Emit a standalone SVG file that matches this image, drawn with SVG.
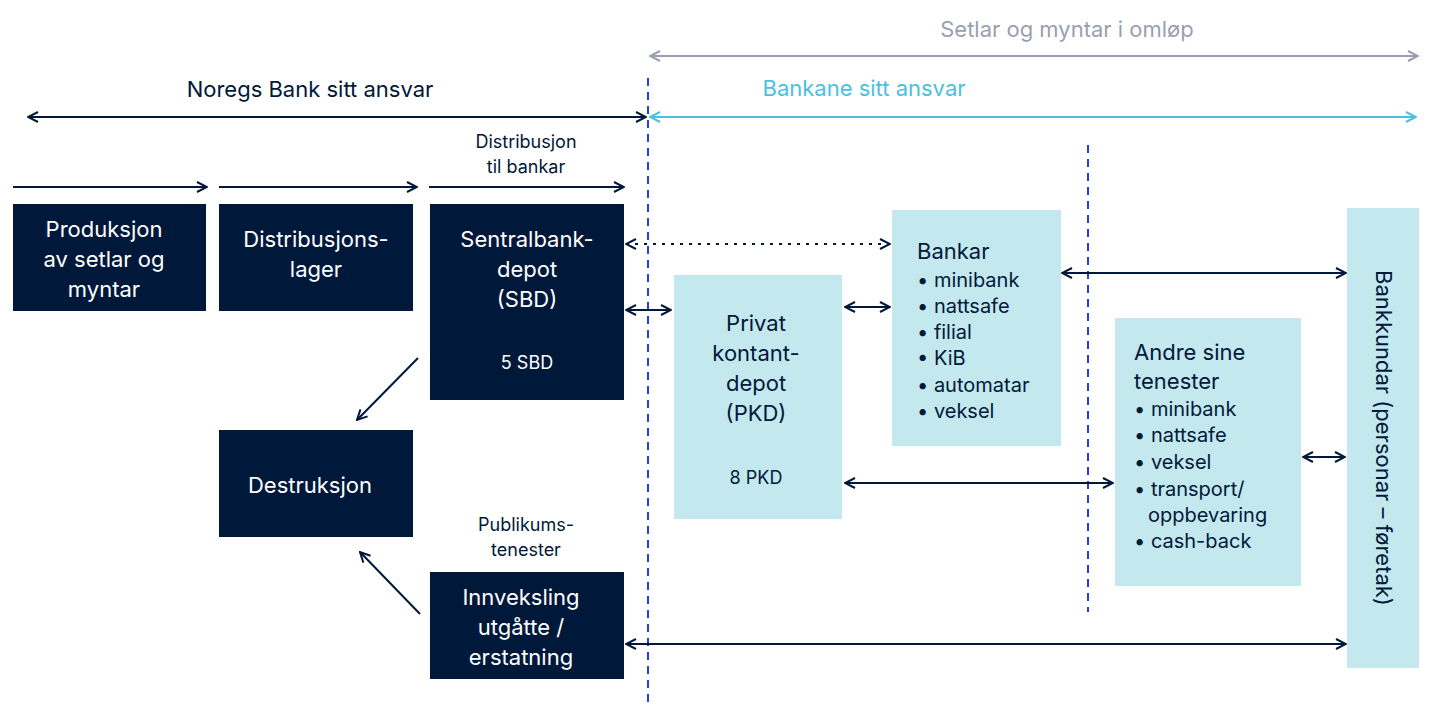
<svg xmlns="http://www.w3.org/2000/svg" width="1445" height="724" viewBox="0 0 1445 724">
<defs>
<style>
text{font-family:"Inter","Liberation Sans",sans-serif}
.d{fill:#00183a}.l{fill:#c3e8ee}
.w{fill:#fff;font-size:22px;text-anchor:middle}
.k{fill:#00183a;font-size:20px}
.c{stroke:#00183a;stroke-width:2;fill:none}
</style>
<marker id="a" viewBox="0 0 12 12" refX="11" refY="6" markerWidth="12" markerHeight="12" orient="auto-start-reverse" markerUnits="userSpaceOnUse"><path d="M1,1 L11,6 L1,11" fill="none" stroke="context-stroke" stroke-width="2"/></marker>
</defs>
<rect width="1445" height="724" fill="#fff"/>
<text x="1067" y="37" fill="#9a9fb0" font-size="22" text-anchor="middle">Setlar og myntar i omløp</text>
<text x="310" y="97" fill="#00183a" font-size="22" text-anchor="middle">Noregs Bank sitt ansvar</text>
<text x="864" y="96" fill="#4cc0e0" font-size="22" text-anchor="middle">Bankane sitt ansvar</text>
<text x="526" y="148" class="k" font-size="18" text-anchor="middle" style="font-size:18px">Distribusjon</text>
<text x="526" y="173" class="k" text-anchor="middle" style="font-size:18px">til bankar</text>
<text x="526" y="531" class="k" text-anchor="middle" style="font-size:18px">Publikums-</text>
<text x="526" y="556" class="k" text-anchor="middle" style="font-size:18px">tenester</text>
<g id="connectors">
<line x1="650" y1="56" x2="1418" y2="56" stroke="#9a9fb0" stroke-width="2" marker-start="url(#a)" marker-end="url(#a)"/>
<line x1="28" y1="117" x2="646" y2="117" class="c" marker-start="url(#a)" marker-end="url(#a)"/>
<line x1="650" y1="117" x2="1416" y2="117" stroke="#4cc0e0" stroke-width="2" marker-start="url(#a)" marker-end="url(#a)"/>
<line x1="648" y1="78" x2="648" y2="706" stroke="#2a3cf0" stroke-width="2" stroke-dasharray="8,6"/>
<line x1="1088" y1="145" x2="1088" y2="612" stroke="#2a3cf0" stroke-width="2" stroke-dasharray="8,6"/>
<line x1="13" y1="187" x2="207" y2="187" class="c" marker-end="url(#a)"/>
<line x1="219" y1="187" x2="417" y2="187" class="c" marker-end="url(#a)"/>
<line x1="429" y1="187" x2="624" y2="187" class="c" marker-end="url(#a)"/>
<line x1="626" y1="244" x2="890" y2="244" class="c" stroke-dasharray="3,6" marker-start="url(#a)" marker-end="url(#a)"/>
<line x1="626" y1="310" x2="671" y2="310" class="c" marker-start="url(#a)" marker-end="url(#a)"/>
<line x1="845" y1="307" x2="890" y2="307" class="c" marker-start="url(#a)" marker-end="url(#a)"/>
<line x1="1062" y1="273" x2="1346" y2="273" class="c" marker-start="url(#a)" marker-end="url(#a)"/>
<line x1="845" y1="483" x2="1113" y2="483" class="c" marker-start="url(#a)" marker-end="url(#a)"/>
<line x1="1303" y1="457" x2="1345" y2="457" class="c" marker-start="url(#a)" marker-end="url(#a)"/>
<line x1="626" y1="644" x2="1346" y2="644" class="c" marker-start="url(#a)" marker-end="url(#a)"/>
<line x1="418" y1="358" x2="357" y2="420" class="c" marker-end="url(#a)"/>
<line x1="420" y1="614" x2="360" y2="552" class="c" marker-end="url(#a)"/>
</g>
<g id="prod"><rect class="d" x="13" y="204" width="193" height="107"/><text class="w" x="104" y="237">Produksjon</text><text class="w" x="104" y="267">av setlar og</text><text class="w" x="104" y="297">myntar</text></g>
<g id="lager"><rect class="d" x="219" y="204" width="194" height="107"/><text class="w" x="316" y="247">Distribusjons-</text><text class="w" x="316" y="277">lager</text></g>
<g id="sbd"><rect class="d" x="430" y="204" width="194" height="196"/><text class="w" x="527" y="247">Sentralbank-</text><text class="w" x="527" y="277">depot</text><text class="w" x="527" y="307">(SBD)</text><text class="w" x="527" y="369" style="font-size:18px">5 SBD</text></g>
<g id="destr"><rect class="d" x="219" y="430" width="194" height="107"/><text class="w" x="310" y="493">Destruksjon</text></g>
<g id="innv"><rect class="d" x="430" y="572" width="194" height="107"/><text class="w" x="521" y="605">Innveksling</text><text class="w" x="521" y="635">utgåtte /</text><text class="w" x="521" y="665">erstatning</text></g>
<g id="pkd"><rect class="l" x="674" y="275" width="168" height="244"/><g class="k" text-anchor="middle" style="font-size:22px"><text x="756" y="331">Privat</text><text x="756" y="361">kontant-</text><text x="756" y="391">depot</text><text x="756" y="421">(PKD)</text><text x="756" y="484" style="font-size:18px">8 PKD</text></g></g>
<g id="bankar"><rect class="l" x="892" y="210" width="169" height="236"/><text class="k" x="917" y="259" style="font-size:22px">Bankar</text><g class="k"><text x="917" y="287">• minibank</text><text x="917" y="313">• nattsafe</text><text x="917" y="339">• filial</text><text x="917" y="365">• KiB</text><text x="917" y="392">• automatar</text><text x="917" y="418">• veksel</text></g></g>
<g id="andre"><rect class="l" x="1115" y="318" width="186" height="268"/><text class="k" x="1134" y="360" style="font-size:22px">Andre sine</text><text class="k" x="1134" y="389" style="font-size:22px">tenester</text><g class="k"><text x="1134" y="416">• minibank</text><text x="1134" y="442">• nattsafe</text><text x="1134" y="469">• veksel</text><text x="1134" y="496">• transport/</text><text x="1148" y="522">oppbevaring</text><text x="1134" y="548">• cash-back</text></g></g>
<g id="kundar"><rect class="l" x="1347" y="208" width="72" height="460"/><text class="k" transform="translate(1376,438) rotate(90)" text-anchor="middle" style="font-size:22px">Bankkundar (personar – føretak)</text></g>
</svg>
